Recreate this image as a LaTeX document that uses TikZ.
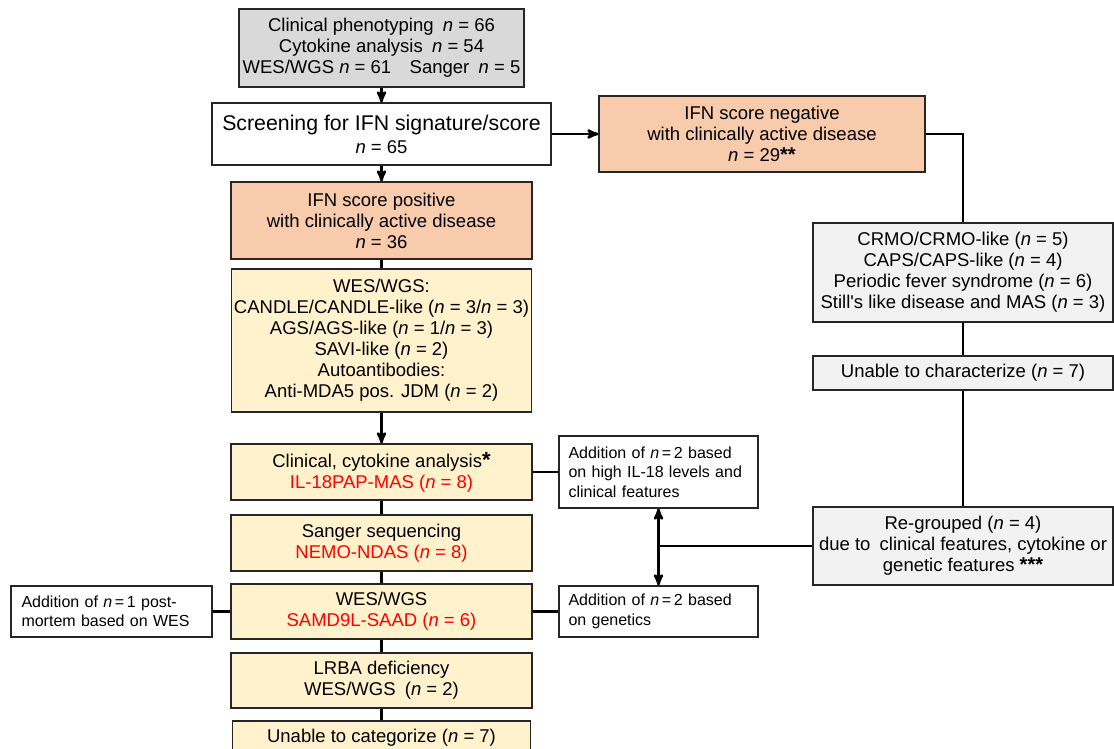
\documentclass[tikz,border=0pt]{standalone}
\usepackage{fontspec}
\setmainfont{Liberation Sans}
\usetikzlibrary{arrows}

\definecolor{phenogray}{HTML}{D9D9D9}
\definecolor{othergray}{HTML}{F2F2F2}
\definecolor{ifnsalmon}{HTML}{F8CBAD}
\definecolor{gencream}{HTML}{FFF2CC}

\tikzset{
  box/.style={draw=black!85,line width=1.3pt,align=center,inner sep=1pt,
    font=\fontsize{18.5}{21}\selectfont},
  note/.style={draw=black!85,line width=1.3pt,align=left,text width=180pt,inner sep=0pt,
    font=\fontsize{16}{19.5}\selectfont},
  link/.style={line width=2.6pt,>=stealth'}
}

\begin{document}
\begin{tikzpicture}[x=1pt,y=-1pt]

  \useasboundingbox (0,0) rectangle (1114,749);

  % main column
  \node [box,fill=phenogray,minimum width=285pt,minimum height=78pt] (pheno) at (381.5,48)
    {Clinical phenotyping\enspace \textit{n} = 66\\
     Cytokine analysis\enspace \textit{n} = 54\\
     WES/WGS \textit{n} = 61\quad Sanger\enspace \textit{n} = 5};
  \node [box,fill=white,minimum width=339pt,minimum height=62pt] (screen) at (381.5,134)
    {{\fontsize{21.3}{24}\selectfont Screening for IFN signature/score}\\[2pt] \textit{n} = 65};
  \node [box,fill=ifnsalmon,minimum width=301pt,minimum height=77pt] (ifnpos) at (381.5,220.5)
    {IFN score positive\\ with clinically active disease\\ \textit{n} = 36};
  \node [box,fill=gencream,minimum width=300pt,minimum height=143pt] (wgs) at (381.5,340.5)
    {WES/WGS:\\
     CANDLE/CANDLE-like (\textit{n} = 3/\textit{n} = 3)\\
     AGS/AGS-like (\textit{n} = 1/\textit{n} = 3)\\
     SAVI-like (\textit{n} = 2)\\
     Autoantibodies:\\
     Anti-MDA5 pos. JDM (\textit{n} = 2)};
  \node [box,fill=gencream,minimum width=301pt,minimum height=56pt] (cyto) at (381.5,472)
    {Clinical, cytokine analysis{\fontsize{22}{22}\selectfont\textbf{*}}\\
     \textcolor{red}{IL-18PAP-MAS (\textit{n} = 8)}};
  \node [box,fill=gencream,minimum width=301pt,minimum height=56pt] (sanger) at (381.5,543)
    {Sanger sequencing\\ \textcolor{red}{NEMO-NDAS (\textit{n} = 8)}};
  \node [box,fill=gencream,minimum width=301pt,minimum height=55pt] (samd) at (381.5,611.5)
    {WES/WGS\\ \textcolor{red}{SAMD9L-SAAD (\textit{n} = 6)}};
  \node [box,fill=gencream,minimum width=301pt,minimum height=55pt] (lrba) at (381.5,680.5)
    {LRBA deficiency\\ WES/WGS\enspace(\textit{n} = 2)};
  \node [box,fill=gencream,minimum width=298pt,minimum height=34pt] (uncat) at (381.5,738)
    {Unable to categorize (\textit{n} = 7)};

  % IFN negative branch
  \node [box,fill=ifnsalmon,minimum width=326pt,minimum height=76pt] (ifnneg) at (762,134)
    {IFN score negative\\ with clinically active disease\\ \textit{n} = 29{\fontsize{20}{20}\selectfont\textbf{**}}};
  \node [box,fill=othergray,minimum width=300pt,minimum height=99pt] (crmo) at (963,272.5)
    {CRMO/CRMO-like (\textit{n} = 5)\\
     CAPS/CAPS-like (\textit{n} = 4)\\
     Periodic fever syndrome (\textit{n} = 6)\\
     Still\textquotesingle s like disease and MAS (\textit{n} = 3)};
  \node [box,fill=othergray,minimum width=300pt,minimum height=34pt] (charz) at (963,373)
    {Unable to characterize (\textit{n} = 7)};
  \node [box,fill=othergray,minimum width=300pt,minimum height=78pt] (regroup) at (963,546)
    {Re-grouped (\textit{n} = 4)\\
     due to\enspace clinical features, cytokine or\\
     genetic features {\fontsize{20}{20}\selectfont\textbf{***}}};

  % additions
  \node [note,fill=white,minimum width=199pt,minimum height=72pt] (addil) at (658.5,472)
    {Addition of \textit{n}\,=\,2 based\\ on high IL-18 levels and\\ clinical features};
  \node [note,fill=white,minimum width=199pt,minimum height=51pt] (addgen) at (658.5,611.5)
    {Addition of \textit{n}\,=\,2 based\\ on genetics};
  \node [note,fill=white,minimum width=201pt,minimum height=51pt] (addpm) at (111.5,611.5)
    {Addition of \textit{n}\,=\,1 post-\\ mortem based on WES};

  \draw [link,->] (pheno) -- (screen);
  \draw [link,->] (screen) -- (ifnpos);
  \draw [link,->] (screen) -- (ifnneg);
  \draw [link] (ifnpos) -- (wgs);
  \draw [link,->] (wgs) -- (cyto);
  \draw [link] (cyto) -- (sanger);
  \draw [link] (sanger) -- (samd);
  \draw [link] (samd) -- (lrba);
  \draw [link] (lrba) -- (uncat);
  \draw [link] (cyto) -- (addil);
  \draw [link] (samd) -- (addgen);
  \draw [link] (addpm) -- (samd);
  \draw [link,<->] (addil) -- (addgen);
  \draw [link] (ifnneg.east) -| (crmo.north);
  \draw [link] (crmo) -- (charz);
  \draw [link] (charz) -- (regroup);
  \draw [link] (regroup.west) -- (regroup.west -| addil.south);

\end{tikzpicture}
\end{document}
